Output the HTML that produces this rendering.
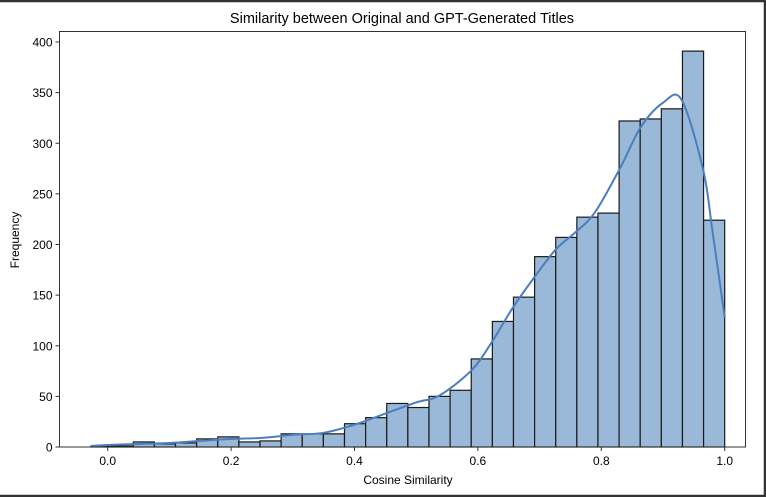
<!DOCTYPE html>
<html><head><meta charset="utf-8"><style>
body{margin:0;background:#fff;}
#wrap{position:relative;width:766px;height:497px;overflow:hidden;}
svg text{font-family:"Liberation Sans","DejaVu Sans",sans-serif;fill:#000;}
</style></head><body>
<div id="wrap">
<svg id="chart" width="766" height="497"></svg>
</div>
<script>
const binStart = -0.027;
const binEnd = 1.0;
const counts = [1,1,5,3,4,8,10,5,6,13,13,13,23,29,43,39,50,56,87,124,148,188,207,227,231,322,324,334,391,224];
const kdeX = [-0.027,0.0,0.05,0.1,0.15,0.2,0.25,0.3,0.35,0.4,0.45,0.5,0.538,0.59,0.623,0.657,0.692,0.726,0.758,0.79,0.831,0.864,0.9,0.93,0.965,0.98,1.0];
const kdeY = [1,2,3,4,6,8,9,12,14,22,33,44,51,76,104,138,168,195,212,232,276,316,340,343,274,214,128];
const xTicks = [0.0,0.2,0.4,0.6,0.8,1.0];
const xTickLabels = ["0.0","0.2","0.4","0.6","0.8","1.0"];
const yTicks = [0,50,100,150,200,250,300,350,400];
const yTickLabels = ["0","50","100","150","200","250","300","350","400"];

const NS="http://www.w3.org/2000/svg";
const svg=document.getElementById('chart');
const L=59.5,R=745.5,T=31.5,B=447;
const xs=v=>107.7+v*617;
const ys=v=>447-v*1.0125;
function mk(tag,attrs,parent){const e=document.createElementNS(NS,tag);for(const k in attrs)e.setAttribute(k,attrs[k]);(parent||svg).appendChild(e);return e;}

const fb=mk('path',{d:'M0 1H765V496H0',fill:'none',stroke:'#333',"stroke-width":2.5});



const bars=mk('g',{});


const w=(binEnd-binStart)/counts.length;
counts.forEach((c,i)=>{
  const x0=xs(binStart+i*w),x1=xs(binStart+(i+1)*w);
  const r=mk('rect',{x:x0,y:ys(c),width:x1-x0,height:ys(0)-ys(c),fill:'#9ab9d8',stroke:'#1a1a1a','stroke-width':1.2},bars);
  
  
});

const pts=kdeX.map((x,i)=>[xs(x),ys(kdeY[i])]);
let d='M'+pts[0][0]+' '+pts[0][1];
for(let i=0;i<pts.length-1;i++){
  const p0=pts[Math.max(0,i-1)],p1=pts[i],p2=pts[i+1],p3=pts[Math.min(pts.length-1,i+2)];
  const c1=[p1[0]+(p2[0]-p0[0])/6,p1[1]+(p2[1]-p0[1])/6];
  const c2=[p2[0]-(p3[0]-p1[0])/6,p2[1]-(p3[1]-p1[1])/6];
  d+=' C'+c1[0]+' '+c1[1]+' '+c2[0]+' '+c2[1]+' '+p2[0]+' '+p2[1];
}
const kde=mk('path',{d:d,fill:'none',stroke:'#4a7fbf','stroke-width':2});



const frame=mk('rect',{x:L,y:T,width:R-L,height:B-T,fill:'none',stroke:'#333','stroke-width':1});



const xa=mk('g',{});


xTicks.forEach((t,i)=>{
  const x=xs(t);
  mk('line',{x1:x,x2:x,y1:B,y2:B+4,stroke:'#333'},xa);
  const tx=mk('text',{x:x,y:B+18,'text-anchor':'middle','font-size':12},xa);
  tx.textContent=xTickLabels[i];
  
  
});
const ya=mk('g',{});


yTicks.forEach((t,i)=>{
  const y=ys(t);
  mk('line',{x1:L-4,x2:L,y1:y,y2:y,stroke:'#333'},ya);
  const tx=mk('text',{x:L-7,y:y+4.5,'text-anchor':'end','font-size':12},ya);
  tx.textContent=yTickLabels[i];
  
  
});
const xl=mk('text',{x:408,y:484,'text-anchor':'middle','font-size':12});
xl.textContent='Cosine Similarity';


const yl=mk('text',{x:19,y:240,'text-anchor':'middle','font-size':12,transform:'rotate(-90 19 240)'});
yl.textContent='Frequency';


const tt=mk('text',{x:402,y:23,'text-anchor':'middle','font-size':14.5});
tt.textContent='Similarity between Original and GPT-Generated Titles';


</script>
</body></html>
